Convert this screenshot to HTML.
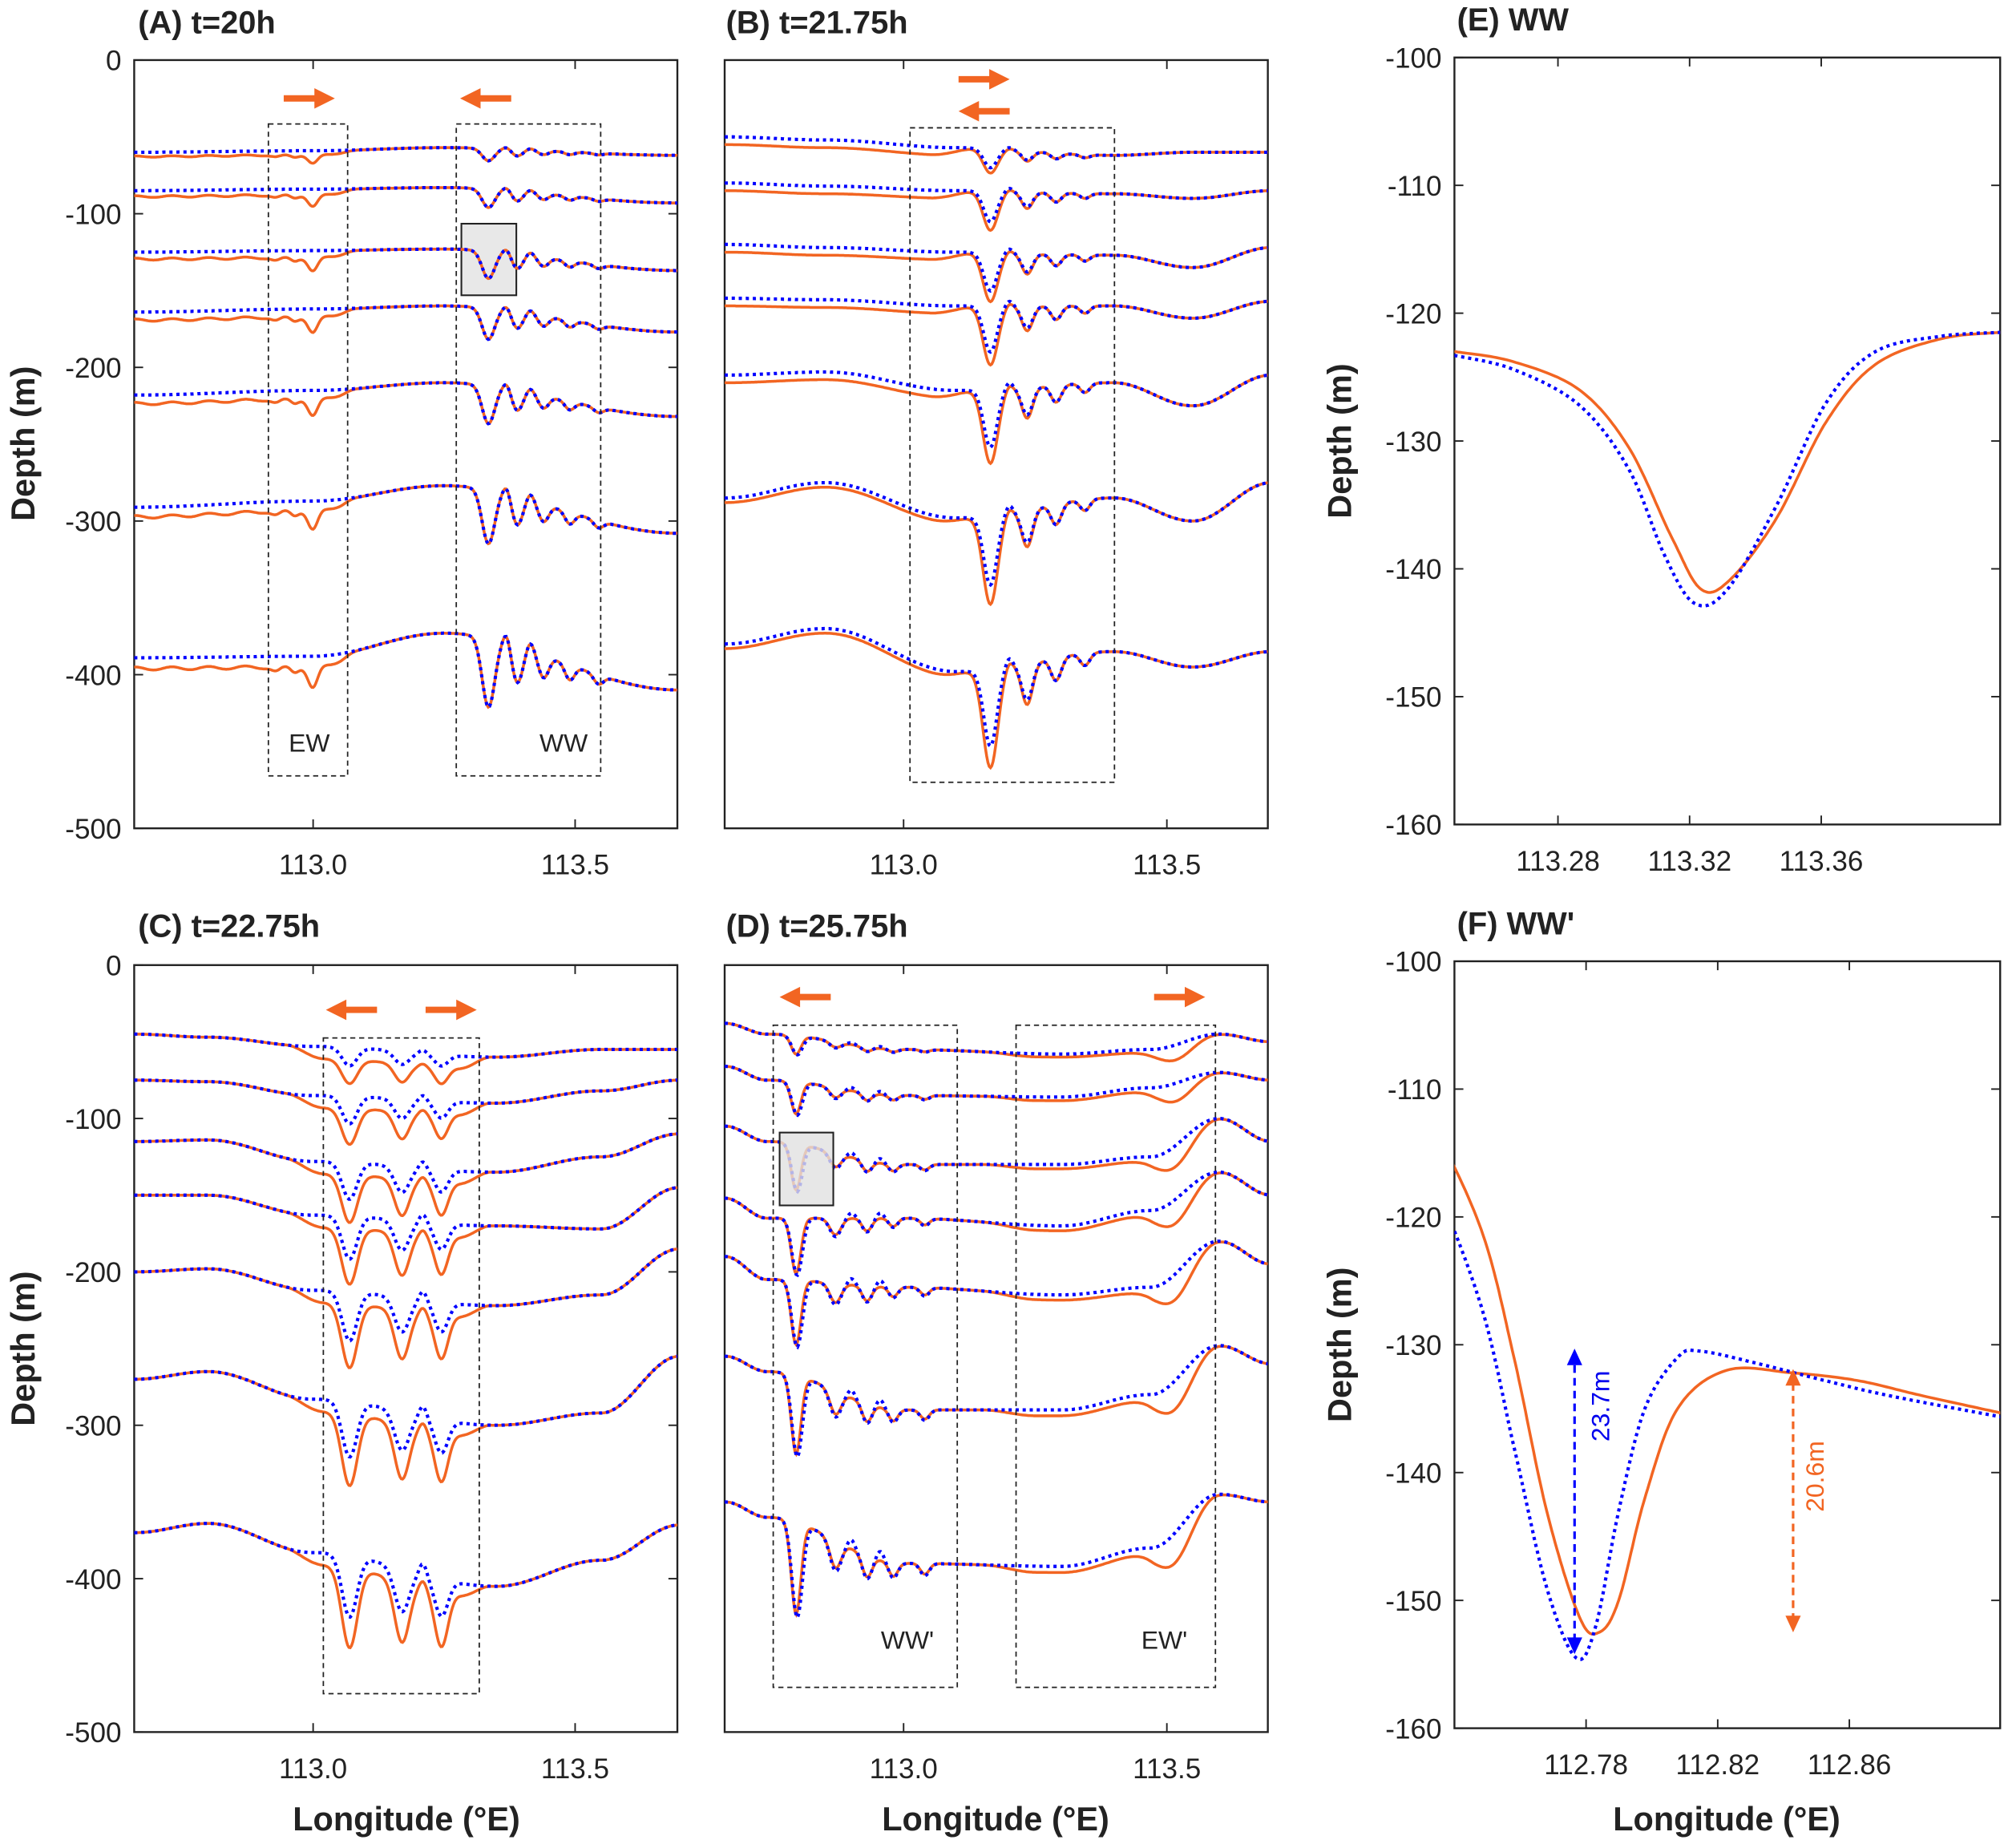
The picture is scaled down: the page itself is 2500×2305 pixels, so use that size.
<!DOCTYPE html>
<html><head><meta charset="utf-8"><style>
html,body{margin:0;padding:0;background:#fff}
svg{display:block}
text{font-family:"Liberation Sans",Arial,sans-serif;fill:#222}
.tk{font-size:22px}
.tt{font-size:25px;font-weight:bold}
.al{font-size:26px;font-weight:bold}
</style></head><body>
<svg id="s" width="2500" height="2305" viewBox="0 0 1568 1445.7" preserveAspectRatio="none" xmlns="http://www.w3.org/2000/svg">
<defs>
<clipPath id="cA"><rect x="105" y="47" width="425" height="601"/></clipPath>
<clipPath id="cB"><rect x="567" y="47" width="425" height="601"/></clipPath>
<clipPath id="cC"><rect x="105" y="755" width="425" height="600"/></clipPath>
<clipPath id="cD"><rect x="567" y="755" width="425" height="600"/></clipPath>
<clipPath id="cE"><rect x="1138" y="45" width="427" height="600"/></clipPath>
<clipPath id="cF"><rect x="1138" y="752" width="427" height="600"/></clipPath>
</defs>
<g id="g"></g>
<text class="tt" x="108" y="26">(A) t=20h</text>
<text class="tt" x="568" y="26">(B) t=21.75h</text>
<text class="tt" x="108" y="733">(C) t=22.75h</text>
<text class="tt" x="568" y="733">(D) t=25.75h</text>
<text class="tt" x="1140" y="24">(E) WW</text>
<text class="tt" x="1140" y="731">(F) WW'</text>
<text class="al" transform="translate(27,347) rotate(-90)" text-anchor="middle">Depth (m)</text>
<text class="al" transform="translate(27,1055) rotate(-90)" text-anchor="middle">Depth (m)</text>
<text class="al" transform="translate(1057,345) rotate(-90)" text-anchor="middle">Depth (m)</text>
<text class="al" transform="translate(1057,1052) rotate(-90)" text-anchor="middle">Depth (m)</text>
<text class="al" x="318" y="1432" text-anchor="middle">Longitude (°E)</text>
<text class="al" x="779" y="1432" text-anchor="middle">Longitude (°E)</text>
<text class="al" x="1351" y="1432" text-anchor="middle">Longitude (°E)</text>
<text class="tk" x="242" y="588" text-anchor="middle" style="font-size:20px">EW</text>
<text class="tk" x="441" y="588" text-anchor="middle" style="font-size:20px">WW</text>
<text class="tk" x="710" y="1290" text-anchor="middle" style="font-size:20px">WW'</text>
<text class="tk" x="911" y="1290" text-anchor="middle" style="font-size:20px">EW'</text>
<text transform="translate(1259,1100) rotate(-90)" text-anchor="middle" style="font-size:20px;fill:#0000ee">23.7m</text>
<text transform="translate(1427,1155) rotate(-90)" text-anchor="middle" style="font-size:20px;fill:#f26522">20.6m</text>
</svg>
<script>
var NS="http://www.w3.org/2000/svg",G=document.getElementById('g'),S=document.getElementById('s');
function el(t,a,p){var e=document.createElementNS(NS,t);for(var k in a)e.setAttribute(k,a[k]);(p||G).appendChild(e);return e;}
function txt(x,y,s,anc){var e=el('text',{x:x,y:y,'class':'tk','text-anchor':anc||'middle'},S);e.textContent=s;}
var OR="#f26522",BL="#0000ff";
function interp(k,x){if(x<=k[0][0])return k[0][1];for(var i=1;i<k.length;i++){if(x<=k[i][0]){var t=(x-k[i-1][0])/(k[i][0]-k[i-1][0]);t=(1-Math.cos(Math.PI*t))/2;return k[i-1][1]+(k[i][1]-k[i-1][1])*t;}}return k[k.length-1][1];}
function g(x,c,s){return Math.exp(-Math.pow((x-c)/s,2));}
function sm(a,b,x){var t=Math.max(0,Math.min(1,(x-a)/(b-a)));return t*t*(3-2*t);}
function frame(x0,y0,w,h,yt,xt){
 el('rect',{x:x0,y:y0,width:w,height:h,fill:'none',stroke:'#222','stroke-width':1.5});
 yt.forEach(function(t){el('line',{x1:x0,x2:x0+7,y1:t[0],y2:t[0],stroke:'#222','stroke-width':1.2});el('line',{x1:x0+w,x2:x0+w-7,y1:t[0],y2:t[0],stroke:'#222','stroke-width':1.2});txt(x0-10,t[0]+8,t[1],'end');});
 xt.forEach(function(t){el('line',{x1:t[0],x2:t[0],y1:y0+h,y2:y0+h-7,stroke:'#222','stroke-width':1.2});el('line',{x1:t[0],x2:t[0],y1:y0,y2:y0+7,stroke:'#222','stroke-width':1.2});txt(t[0],y0+h+36,t[1]);});
}
function dbox(x1,y1,x2,y2){el('rect',{x:x1,y:y1,width:x2-x1,height:y2-y1,fill:'none',stroke:'#222','stroke-width':1.1,'stroke-dasharray':'4 3'});}
function arrow(x1,x2,y){var d=x2>x1?1:-1;el('line',{x1:x1,y1:y,x2:x2-d*14,y2:y,stroke:OR,'stroke-width':5});el('polygon',{points:x2+','+y+' '+(x2-d*16)+','+(y-8)+' '+(x2-d*16)+','+(y+8),fill:OR});}
function path(pts,col,clip,dot){var d='';pts.forEach(function(p,i){d+=(i?'L':'M')+p[0].toFixed(1)+','+p[1].toFixed(1);});
 var a={d:d,fill:'none',stroke:col,'stroke-width':dot?2.6:2.2,'clip-path':'url(#'+clip+')'};if(dot){a['stroke-dasharray']='2.5 3';}el('path',a);}
function panel(o){
 for(var i=0;i<7;i++){
  ['o','b'].forEach(function(kind){
   var pts=[];
   for(var px=o.x0;px<=o.x0+425;px+=1){
    var lon=o.lon0+(px-o.x0)/o.ppd;
    var k=o.knots.map(function(kk){return [kk[0],kk[1][i]];});
    var d=interp(k,lon);
    var tr=kind=='o'?o.to:o.tb;
    for(var j=0;j<tr.length;j++)d+=tr[j][1]*o.s[i]*g(lon,tr[j][0],tr[j][2]);
    if(kind=='o'&&o.extra)d+=o.extra(lon,i);
    pts.push([px,o.y0+d*o.ppm]);
   }
   path(pts,kind=='o'?OR:BL,o.clip,kind=='b');
  });
 }
}
frame(105,47,425,601,[[47,'0'],[167.2,'-100'],[287.4,'-200'],[407.6,'-300'],[527.8,'-400'],[648,'-500']],[[245,'113.0'],[450,'113.5']]);
el('rect',{x:361,y:175,width:43,height:56,fill:'#e8e8e8',stroke:'#222','stroke-width':1.3});
var wwA=[[113.335,45,0.017],[113.39,24,0.015],[113.44,15,0.014],[113.49,10,0.013],[113.545,6,0.013],[113.37,-8,0.01],[113.415,-6,0.01]];
panel({x0:105,y0:47,ppm:1.202,ppd:410,lon0:112.659,clip:'cA',s:[0.18,0.27,0.4,0.45,0.55,0.78,1],
 knots:[[112.66,[60,85,125,164,218,291,389]],[113.0,[59,84,124,162,215,287,388]],[113.25,[57,83,123,160,210,277,373]],[113.7,[62,93,137,177,232,308,410]]],
 tb:wwA,to:wwA,extra:function(l,i){var s=[0.4,0.55,0.65,0.75,0.8,0.9,1][i];return (7*(1-sm(113.0,113.12,l))+3*g(l,112.93,0.012)+3*g(l,112.965,0.01)+14*g(l,113.0,0.013)+1*Math.sin(l*90))*s*(1-sm(113.05,113.12,l));}});
dbox(210,97,272,607);dbox(357,97,470,607);
arrow(222,262,77);arrow(400,360,77);
frame(567,47,425,601,[],[[707,'113.0'],[913,'113.5']]);
var kB=[[112.66,[50,80,120,155,205,285,380]],[112.85,[52,82,122,156,203,275,370]],[113.1,[57,85,125,160,215,298,398]],[113.4,[62,87,127,160,210,285,385]],[113.55,[60,90,135,168,225,300,395]],[113.7,[60,85,122,157,205,275,385]]];
panel({x0:567,y0:47,ppm:1.202,ppd:411,lon0:112.659,clip:'cB',s:[0.25,0.4,0.5,0.6,0.75,0.9,1],knots:kB,
 tb:[[113.165,50,0.018],[113.235,24,0.015],[113.29,15,0.014],[113.345,8,0.013],[113.2,-6,0.01]],
 to:[[113.165,64,0.02],[113.235,27,0.015],[113.29,15,0.014],[113.345,8,0.013],[113.2,-4,0.01]],
 extra:function(l,i){return 5*(1-sm(113.05,113.15,l))*(i<5?1:0.6);}});
dbox(712,100,872,612);
arrow(750,790,62);arrow(790,750,87);
frame(105,755,425,600,[[755,'0'],[875,'-100'],[995,'-200'],[1115,'-300'],[1235,'-400'],[1355,'-500']],[[245,'113.0'],[450,'113.5']]);
var kC=[[112.66,[45,75,115,150,200,270,370]],[112.8,[47,76,114,150,198,265,364]],[113.0,[53,85,128,163,212,283,383]],[113.35,[60,90,135,170,222,300,405]],[113.55,[55,82,125,172,215,292,388]],[113.7,[55,75,110,145,185,255,365]]];
panel({x0:105,y0:755,ppm:1.2,ppd:410,lon0:112.659,clip:'cC',s:[0.3,0.45,0.6,0.7,0.8,0.9,1],knots:kC,
 tb:[[113.07,40,0.02],[113.17,28,0.02],[113.245,24,0.018],[113.21,-8,0.01]],
 to:[[113.07,52,0.021],[113.17,40,0.02],[113.245,36,0.018],[113.21,-5,0.01]],
 extra:function(l,i){return 8*sm(112.95,113.02,l)*(1-sm(113.28,113.34,l));}});
dbox(253,812,375,1325);
arrow(295,255,790);arrow(333,373,790);
frame(567,755,425,600,[],[[707,'113.0'],[913,'113.5']]);
var kD=[[112.66,[38,66,105,152,190,255,350]],[112.74,[45,75,115,165,205,265,360]],[113.0,[55,85,130,165,210,290,390]],[113.3,[58,86,130,170,215,290,392]],[113.47,[55,80,125,160,210,280,380]],[113.6,[45,70,100,135,180,248,345]],[113.7,[50,75,115,150,195,260,350]]];
panel({x0:567,y0:755,ppm:1.2,ppd:411,lon0:112.659,clip:'cD',s:[0.2,0.35,0.5,0.6,0.7,0.85,1],knots:kD,
 tb:[[112.797,62,0.014],[112.87,20,0.015],[112.93,15,0.013],[112.98,10,0.012],[113.04,8,0.012],[112.9,-6,0.01],[112.955,-6,0.01]],
 to:[[112.795,60,0.013],[112.87,18,0.015],[112.93,14,0.013],[112.98,9,0.012],[113.04,7,0.012]],
 extra:function(l,i){var s=[0.5,0.6,0.7,0.8,0.85,0.95,1][i];return s*(16*g(l,113.52,0.045)+4*sm(113.15,113.25,l)*(1-sm(113.5,113.6,l)));}});
dbox(605,802,749,1320);dbox(795,802,951,1320);
el('rect',{x:610,y:886,width:42,height:57,fill:'rgba(225,225,225,0.8)',stroke:'#222','stroke-width':1.3});
arrow(650,610,780);arrow(903,943,780);
function cr(P,fx,fy){var out=[];for(var i=0;i<P.length-1;i++){var p0=P[Math.max(0,i-1)],p1=P[i],p2=P[i+1],p3=P[Math.min(P.length-1,i+2)];for(var t=0;t<1;t+=0.05){var t2=t*t,t3=t2*t;var x=0.5*((2*p1[0])+(-p0[0]+p2[0])*t+(2*p0[0]-5*p1[0]+4*p2[0]-p3[0])*t2+(-p0[0]+3*p1[0]-3*p2[0]+p3[0])*t3);var y=0.5*((2*p1[1])+(-p0[1]+p2[1])*t+(2*p0[1]-5*p1[1]+4*p2[1]-p3[1])*t2+(-p0[1]+3*p1[1]-3*p2[1]+p3[1])*t3);out.push([fx(x),fy(y)]);}}var l=P[P.length-1];out.push([fx(l[0]),fy(l[1])]);return out;}
var yE=[];for(var v=-100;v>=-160;v-=10)yE.push([45+(-100-v)*10,''+v]);
frame(1138,45,427,600,yE,[[1219,'113.28'],[1322,'113.32'],[1425,'113.36']]);
var fxE=function(x){return 1210+(x-113.28)*2575;},fyE=function(d){return 45+(-100-d)*10;};
path(cr([[113.252,-123],[113.27,-123.8],[113.29,-126],[113.305,-130.5],[113.318,-137.5],[113.327,-141.6],[113.336,-140.8],[113.35,-136],[113.365,-128.5],[113.38,-124],[113.40,-122],[113.418,-121.5]],fxE,fyE),OR,'cE',false);
path(cr([[113.252,-123.3],[113.27,-124.4],[113.29,-127.2],[113.305,-132.2],[113.316,-139],[113.325,-142.7],[113.335,-141.6],[113.35,-135],[113.365,-127],[113.38,-123],[113.40,-121.8],[113.418,-121.5]],fxE,fyE),BL,'cE',true);
var yF=[];for(var v=-100;v>=-160;v-=10)yF.push([752+(-100-v)*10,''+v]);
frame(1138,752,427,600,yF,[[1241,'112.78'],[1344,'112.82'],[1447,'112.86']]);
var fxF=function(x){return 1223+(x-112.78)*2560;},fyF=function(d){return 752+(-100-d)*10;};
path(cr([[112.739,-112],[112.755,-121],[112.765,-131],[112.775,-143],[112.785,-151.3],[112.791,-152.5],[112.797,-150],[112.805,-142],[112.815,-135],[112.83,-132],[112.85,-132.2],[112.87,-132.8],[112.89,-134],[112.915,-135.4]],fxF,fyF),OR,'cF',false);
path(cr([[112.739,-116],[112.755,-127],[112.765,-138],[112.775,-149],[112.784,-154.5],[112.79,-152],[112.797,-143],[112.805,-135],[112.815,-131],[112.822,-130.5],[112.84,-131.5],[112.86,-132.8],[112.88,-134],[112.915,-135.7]],fxF,fyF),BL,'cF',true);
el('line',{x1:1232,y1:1068,x2:1232,y2:1283,stroke:BL,'stroke-width':2,'stroke-dasharray':'6 4'});
el('polygon',{points:'1232,1055 1226,1068 1238,1068',fill:BL});el('polygon',{points:'1232,1294 1226,1281 1238,1281',fill:BL});
el('line',{x1:1403,y1:1082,x2:1403,y2:1265,stroke:OR,'stroke-width':2,'stroke-dasharray':'6 4'});
el('polygon',{points:'1403,1071 1397,1084 1409,1084',fill:OR});el('polygon',{points:'1403,1277 1397,1264 1409,1264',fill:OR});
</script>
</body></html>
